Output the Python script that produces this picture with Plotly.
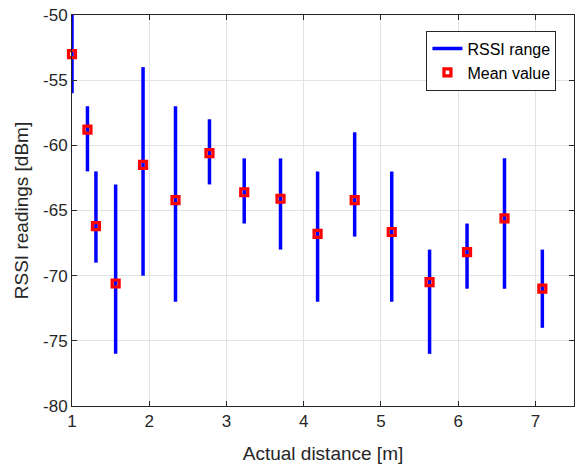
import plotly.graph_objects as go

distance = [1.0, 1.20, 1.31, 1.565, 1.92, 2.34, 2.78, 3.23, 3.70, 4.18, 4.66, 5.14, 5.63, 6.115, 6.60, 7.09]
rssi_max = [-50, -57, -62, -63, -54, -57, -58, -61, -61, -62, -59, -62, -68, -66, -61, -68]
rssi_min = [-56, -62, -69, -76, -70, -72, -63, -66, -68, -72, -67, -72, -76, -71, -71, -74]
rssi_mean = [-53.0, -58.8, -66.2, -70.6, -61.5, -64.2, -60.6, -63.6, -64.1, -66.8, -64.2, -66.65, -70.5, -68.2, -65.6, -71.0]

x_ticks = [1, 2, 3, 4, 5, 6, 7]
y_ticks = [-80, -75, -70, -65, -60, -55, -50]
y_ticktext = ["-80", "-75", "-70", "-65", "-60", "-55", "-50"]

xs, ys = [], []
for d, hi, lo in zip(distance, rssi_max, rssi_min):
    xs += [d, d, None]
    ys += [lo, hi, None]

fig = go.Figure()
fig.add_trace(go.Scatter(x=xs, y=ys, mode="lines", name="RSSI range",
                         line=dict(color="#0000ff", width=3.5)))
fig.add_trace(go.Scatter(x=distance, y=rssi_mean, mode="markers", name="Mean value",
                         marker=dict(symbol="square-open", size=7, color="#ff0000",
                                     line=dict(color="#ff0000", width=3.2)), cliponaxis=False))

axis_common = dict(showline=True, linecolor="#262626", linewidth=1, mirror="ticks",
                   ticks="inside", ticklen=5, tickcolor="#262626",
                   showgrid=True, gridcolor="#e3e3e3", gridwidth=1, zeroline=False,
                   tickfont=dict(family="Liberation Sans, Arial", size=17, color="#262626"))

fig.update_layout(
    width=578, height=464,
    margin=dict(l=72, r=4, t=15, b=58),
    paper_bgcolor="white", plot_bgcolor="white",
    font=dict(family="Liberation Sans, Arial", color="#262626"),
    xaxis=dict(range=[1, 7.5], tickvals=x_ticks, ticktext=[str(v) for v in x_ticks],
               title=dict(text="Actual distance [m]", font=dict(size=19), standoff=16),
               **axis_common),
    yaxis=dict(range=[-80, -50], tickvals=y_ticks, ticktext=y_ticktext,
               title=dict(text="RSSI readings [dBm]", font=dict(size=19), standoff=9),
               **axis_common),
    legend=dict(x=0.965, y=0.96, xanchor="right", yanchor="top",
                bgcolor="white", bordercolor="#262626", borderwidth=1,
                font=dict(size=16, color="#000000"), tracegroupgap=0),
    showlegend=True,
)

fig.write_html("out.html")
